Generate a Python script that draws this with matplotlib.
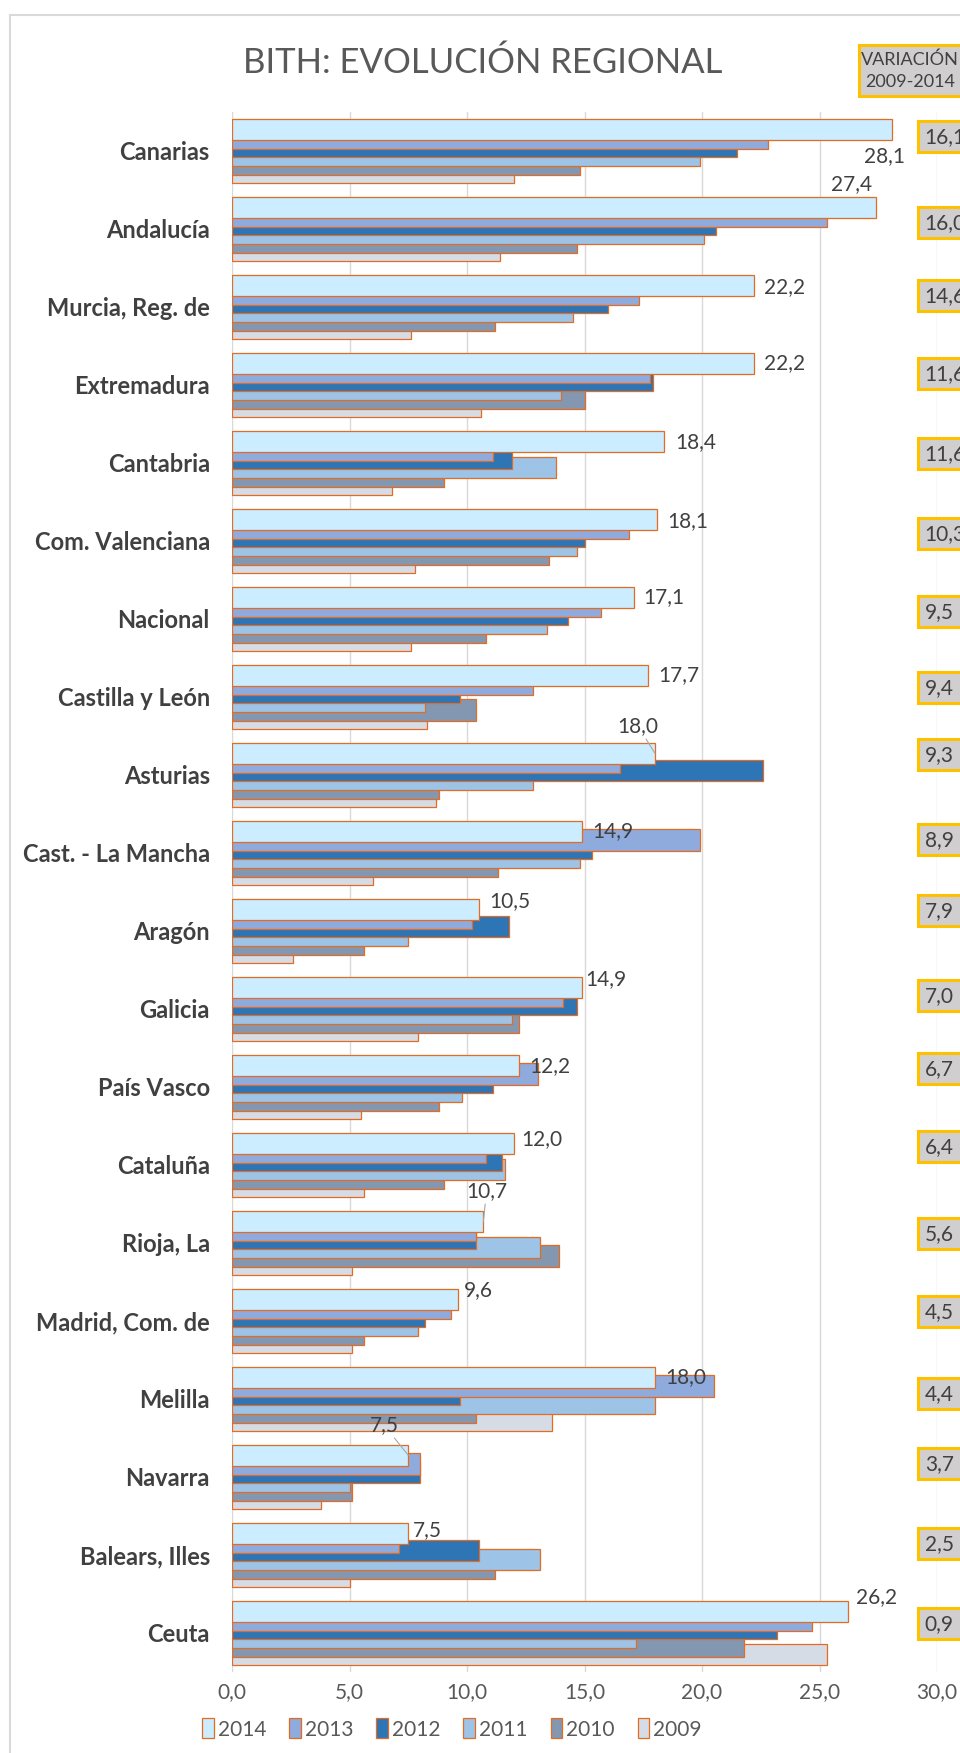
import matplotlib
matplotlib.use("Agg")
import matplotlib.pyplot as plt
from matplotlib.patches import Rectangle, Patch
from matplotlib.lines import Line2D
import numpy as np

plt.rcParams['font.family'] = ['Lato', 'DejaVu Sans']

# ---------------- data ----------------
regions = ["Canarias", "Andalucía", "Murcia, Reg. de", "Extremadura", "Cantabria",
           "Com. Valenciana", "Nacional", "Castilla y León", "Asturias",
           "Cast. - La Mancha", "Aragón", "Galicia", "País Vasco", "Cataluña",
           "Rioja, La", "Madrid, Com. de", "Melilla", "Navarra", "Balears, Illes", "Ceuta"]
years = ["2014", "2013", "2012", "2011", "2010", "2009"]
v2014 = [28.1, 27.4, 22.2, 22.2, 18.4, 18.1, 17.1, 17.7, 18.0, 14.9, 10.5, 14.9, 12.2, 12.0, 10.7, 9.6, 18.0, 7.5, 7.5, 26.2]
v2013 = [22.8, 25.3, 17.3, 17.8, 11.1, 16.9, 15.7, 12.8, 16.5, 19.9, 10.2, 14.1, 13.0, 10.8, 10.4, 9.3, 20.5, 8.0, 7.1, 24.7]
v2012 = [21.5, 20.6, 16.0, 17.9, 11.9, 15.0, 14.3, 9.7, 22.6, 15.3, 11.8, 14.7, 11.1, 11.5, 10.4, 8.2, 9.7, 8.0, 10.5, 23.2]
v2011 = [19.9, 20.1, 14.5, 14.0, 13.8, 14.7, 13.4, 8.2, 12.8, 14.8, 7.5, 11.9, 9.8, 11.6, 13.1, 7.9, 18.0, 5.0, 13.1, 17.2]
v2010 = [14.8, 14.7, 11.2, 15.0, 9.0, 13.5, 10.8, 10.4, 8.8, 11.3, 5.6, 12.2, 8.8, 9.0, 13.9, 5.6, 10.4, 5.1, 11.2, 21.8]
v2009 = [12.0, 11.4, 7.6, 10.6, 6.8, 7.8, 7.6, 8.3, 8.7, 6.0, 2.6, 7.9, 5.5, 5.6, 5.1, 5.1, 13.6, 3.8, 5.0, 25.3]
variation = [16.1, 16.0, 14.6, 11.6, 11.6, 10.3, 9.5, 9.4, 9.3, 8.9, 7.9, 7.0, 6.7, 6.4, 5.6, 4.5, 4.4, 3.7, 2.5, 0.9]
xticks = [0, 5, 10, 15, 20, 25, 30]

series = [v2014, v2013, v2012, v2011, v2010, v2009]

# ---------------- style ----------------
colors = ["#CCECFF", "#8FAADC", "#2E75B6", "#9DC3E6", "#8497B0", "#D6DCE5"]
edge = "#E46C22"
text_dark = "#404040"
text_gray = "#595959"

# label offsets (pixels) for the 2014 value labels: (dx, dy, leader)
lab_off = [(-8, -27, False), (-24, 23, False), (31, -2, False), (31, 0, False), (31, -1, False),
           (30, -2, False), (30, 0, False), (31, 0, False), (-17, 27, True), (31, 0, False),
           (31, 8, False), (24, 8, False), (31, -1, False), (28, 4, False), (3, 30, True),
           (21, 9, False), (31, 0, False), (-24, 30, True), (19, 3, False), (29, 14, False)]
# vertical offsets (pixels, up positive) of the variation boxes w.r.t. the category centre
box_off = [14, 6, 11, 11, 9, 7, 7, 9, 20, 13, 20, 13, 18, 18, 9, 9, 5, 13, 11, 9]

W, H = 960, 1753
fig = plt.figure(figsize=(W / 100, H / 100), dpi=100)
fig.patch.set_facecolor("white")

ax_left, ax_right = 232 / W, 937 / W
ax_top, ax_bot = 1 - 112 / H, 1 - 1672 / H
ax = fig.add_axes([ax_left, ax_bot, ax_right - ax_left, ax_top - ax_bot])

n = len(regions)
px_per_cat = (1672 - 112) / n
bar_h = 21.3 / px_per_cat
step = 8.68 / px_per_cat
ypos = np.arange(n)

for k, (vals, col) in enumerate(zip(series, colors)):
    yk = ypos - 2.5 * step + k * step
    ax.barh(yk, vals, height=bar_h, color=col, edgecolor=edge, linewidth=0.9,
            zorder=10 - k, label=years[k])

ax.set_xlim(0, 30)
ax.set_ylim(n - 0.5, -0.5)
ax.set_xticks(xticks)
ax.set_xticklabels([f"{t:.1f}".replace(".", ",") for t in xticks], color=text_gray, fontsize=15)
ax.set_yticks(ypos)
ax.set_yticklabels(regions, fontweight="bold", color=text_dark, fontsize=17)
ax.tick_params(axis="both", length=0)
ax.tick_params(axis="y", pad=16)
ax.tick_params(axis="x", pad=7)
for s in ax.spines.values():
    s.set_visible(False)
ax.grid(axis="x", color="#D9D9D9", linewidth=1.0, zorder=0)
ax.set_axisbelow(True)

# value labels for 2014
y2014 = ypos - 2.5 * step
for i, v in enumerate(v2014):
    dx, dy, leader = lab_off[i]
    kw = {}
    if leader:
        kw["arrowprops"] = dict(arrowstyle="-", color="#A6A6A6", lw=0.8, shrinkA=0, shrinkB=0)
    ax.annotate(f"{v:.1f}".replace(".", ","), xy=(v, y2014[i]), xytext=(dx, dy),
                textcoords="offset pixels", ha="center", va="center",
                fontsize=15, color=text_dark, zorder=20, annotation_clip=False, **kw)

# variation boxes (right column)
bax = fig.add_axes([918 / W, ax_bot, 0.2, ax_top - ax_bot])
bax.set_xlim(0, 1)
bax.set_ylim(n - 0.5, -0.5)
bax.axis("off")
box_h = 31 / px_per_cat
for i, val in enumerate(variation):
    yc = ypos[i] - box_off[i] / px_per_cat
    bax.add_patch(Rectangle((0.0, yc - box_h / 2), 1.0, box_h, facecolor="#D0CECE",
                            edgecolor="#FFC000", linewidth=2.2, clip_on=False, zorder=5))
    bax.text(0.035, yc, f"{val:.1f}".replace(".", ","), ha="left", va="center",
             fontsize=15, color=text_dark, zorder=6, clip_on=False)

# header box
fig.add_artist(Rectangle((859 / W, 1 - 96 / H), 0.2, 51 / H, transform=fig.transFigure,
                         facecolor="#D0CECE", edgecolor="#FFC000", linewidth=2.2))
fig.text(861 / W, 1 - 60 / H, "VARIACIÓN", ha="left", va="center", fontsize=13, color=text_dark)
fig.text(865 / W, 1 - 82 / H, "2009-2014", ha="left", va="center", fontsize=13, color=text_dark)

# title
fig.text(483 / W, 1 - 63 / H, "BITH: EVOLUCIÓN REGIONAL", ha="center", va="center",
         fontsize=25, color=text_gray, fontweight="normal")

# outer frame (light gray, left & top)
fig.add_artist(Line2D([10 / W, 10 / W], [0, 1 - 14.5 / H], transform=fig.transFigure,
                      color="#D9D9D9", linewidth=1.5))
fig.add_artist(Line2D([10 / W, 1], [1 - 14.5 / H, 1 - 14.5 / H], transform=fig.transFigure,
                      color="#D9D9D9", linewidth=1.5))

# legend
handles = [Patch(facecolor=c, edgecolor=edge, linewidth=0.9, label=y) for c, y in zip(colors, years)]
fig.legend(handles=handles, loc="center", bbox_to_anchor=(452 / W, 1 - 1729 / H), ncol=6,
           frameon=False, fontsize=15, handlelength=0.55, handleheight=1.1,
           handletextpad=0.2, columnspacing=1.1, labelcolor=text_gray)

fig.savefig("out.png", dpi=100)
